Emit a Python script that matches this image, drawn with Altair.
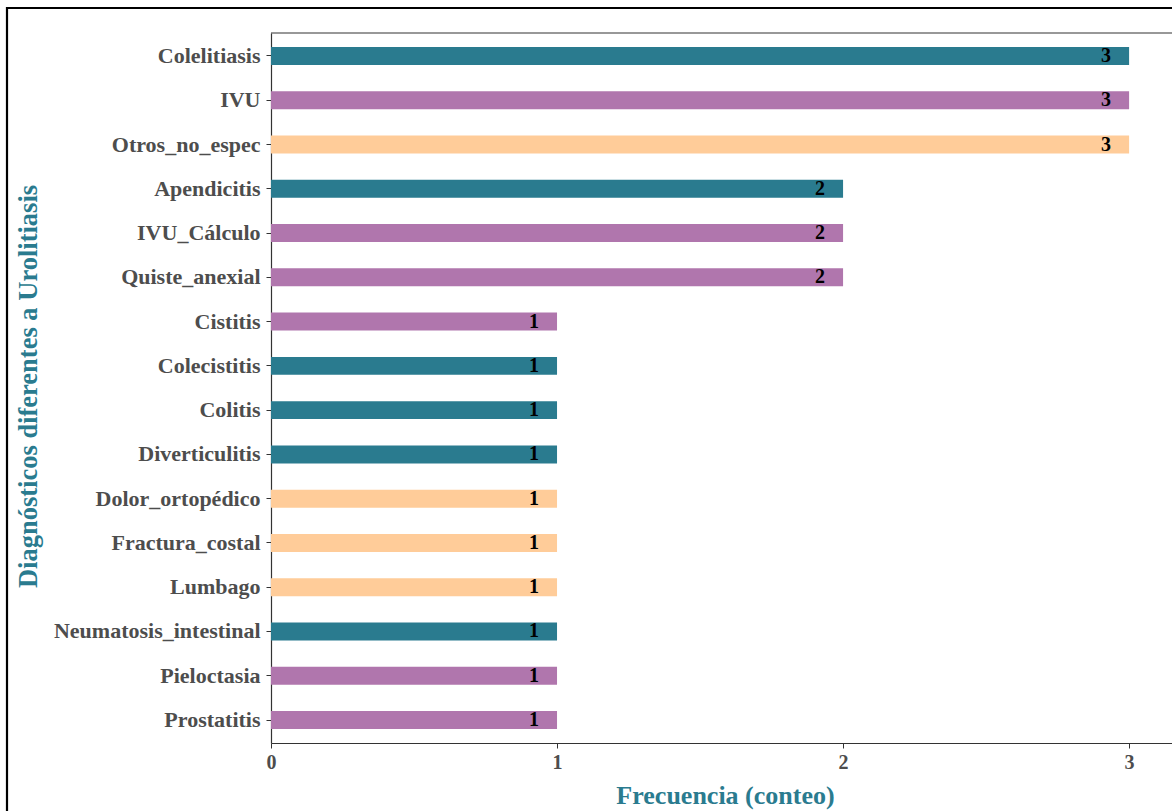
import altair as alt
import pandas as pd

categories = ["Colelitiasis", "IVU", "Otros_no_espec", "Apendicitis", "IVU_Cálculo",
              "Quiste_anexial", "Cistitis", "Colecistitis", "Colitis", "Diverticulitis",
              "Dolor_ortopédico", "Fractura_costal", "Lumbago", "Neumatosis_intestinal",
              "Pieloctasia", "Prostatitis"]
counts = [3, 3, 3, 2, 2, 2, 1, 1, 1, 1, 1, 1, 1, 1, 1, 1]
groups = ["Digestivo", "Urogenital", "Otros", "Digestivo", "Urogenital",
          "Urogenital", "Urogenital", "Digestivo", "Digestivo", "Digestivo",
          "Otros", "Otros", "Otros", "Digestivo", "Urogenital", "Urogenital"]
group_names = ["Digestivo", "Urogenital", "Otros"]
group_colors = ["#2A7B8F", "#B076AD", "#FFCC99"]
x_ticks = [0, 1, 2, 3]

df = pd.DataFrame({"diag": categories, "n": counts, "grupo": groups})

FONT = "Liberation Serif"
TEAL = "#2A7B8F"

y_enc = alt.Y("diag:N", sort=categories,
              scale=alt.Scale(paddingInner=0.594, paddingOuter=0.316),
              axis=alt.Axis(title="Diagnósticos diferentes a Urolitiasis",
                            titleFont=FONT, titleFontSize=26.5, titleFontWeight="bold",
                            titleColor=TEAL, titleX=-243, titleY=353,
                            titleAngle=-90, titleAlign="center", titleBaseline="middle",
                            labelFont=FONT, labelFontSize=22, labelFontWeight="bold",
                            labelColor="#4d4d4d", labelPadding=6, labelLimit=400,
                            tickSize=5, tickColor="#333333", domainColor="#333333",
                            domainWidth=1.2, grid=False))
x_enc = alt.X("n:Q", scale=alt.Scale(domain=[0, 3.15], nice=False, zero=True),
              axis=alt.Axis(title="Frecuencia (conteo)", values=x_ticks, format="d",
                            titleFont=FONT, titleFontSize=26, titleFontWeight="bold",
                            titleColor=TEAL, titleX=454, titleY=52,
                            titleBaseline="middle", titleAlign="center",
                            labelFont=FONT, labelFontSize=20, labelFontWeight="bold",
                            labelColor="#4d4d4d", labelPadding=4, labelFlush=False,
                            tickSize=5, tickColor="#333333", domainColor="#333333",
                            domainWidth=1.2, grid=False))

bars = alt.Chart(df).mark_bar().encode(
    x=x_enc, y=y_enc,
    color=alt.Color("grupo:N", scale=alt.Scale(domain=group_names, range=group_colors),
                    legend=None),
)

labels = alt.Chart(df).mark_text(align="center", baseline="middle", dx=-23,
                                 font=FONT, fontSize=20, fontWeight="bold",
                                 color="black").encode(
    x="n:Q", y=alt.Y("diag:N", sort=categories), text="n:Q")

frame_data = alt.Data(values=[{"a": 1}])
top_line = alt.Chart(frame_data).mark_rule(color="#333333", strokeWidth=1.2).encode(
    x=alt.value(0), x2=alt.value(950), y=alt.value(0))
frame_top = alt.Chart(frame_data).mark_rule(color="black", strokeWidth=2.2).encode(
    x=alt.value(-265), x2=alt.value(950), y=alt.value(-25))
frame_left = alt.Chart(frame_data).mark_rule(color="black", strokeWidth=2.2).encode(
    x=alt.value(-264), y=alt.value(-26), y2=alt.value(800))

chart = alt.layer(bars, labels, top_line, frame_top, frame_left).properties(
    width=901, height=710,
    autosize=alt.AutoSizeParams(type="none"),
    padding={"left": 271, "top": 33, "right": 0, "bottom": 68},
    background="white",
).configure_view(stroke=None)

chart.save("out.html", embed_options={"renderer": "svg", "actions": False})
